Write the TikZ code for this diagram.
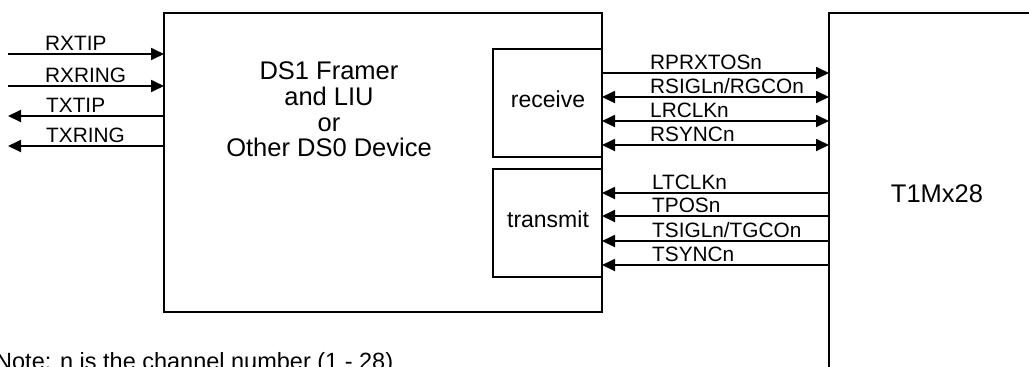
\documentclass[tikz,border=0pt]{standalone}
\usepackage{fontspec}
\setmainfont{Liberation Sans}
\usetikzlibrary{arrows.meta}
\begin{document}
\begin{tikzpicture}[x=1pt,y=-1pt,
  box/.style={draw, line width=1.8pt, rectangle, inner sep=0pt, outer sep=0pt},
  sig/.style={line width=1.8pt},
  lab/.style={anchor=base west, inner sep=0pt, font=\fontsize{20.8}{24}\selectfont},
  >={Triangle[length=13pt,width=12pt]}]
\clip (0,0) rectangle (1029,367);
\useasboundingbox (0,0) rectangle (1029,367);
% boxes
\node[box, minimum width=438pt, minimum height=299pt, anchor=north west] (main) at (164,13) {};
\node[box, minimum width=109pt, minimum height=108pt, anchor=north west] (rcv) at (493,49) {};
\node[box, minimum width=109pt, minimum height=108pt, anchor=north west] (xmt) at (493,169) {};
\node[box, minimum width=260pt, minimum height=400pt, anchor=north west] (t1m) at (829,13) {};
% texts
\node[anchor=north, align=center, inner sep=0pt, font=\fontsize{25.5}{25.8}\selectfont] (maintext) at (329,61.5)
  {DS1 Framer\\and LIU\\or\\Other DS0 Device};
\node[inner sep=0pt, font=\fontsize{23}{26}\selectfont] (rcvtext) at (548,99) {receive};
\node[inner sep=0pt, font=\fontsize{23}{26}\selectfont] (xmttext) at (548,219) {transmit};
\node[inner sep=0pt, font=\fontsize{25.5}{28}\selectfont] (t1mtext) at (937,194) {T1Mx28};
\node[anchor=base west, inner sep=0pt, font=\fontsize{23.5}{26}\selectfont] (note) at (-5,369) {Note: n is the channel number (1 - 28)};
% left side free ends
\coordinate (l1) at (8,54);
\coordinate (l2) at (8,86);
\coordinate (l3) at (8,116);
\coordinate (l4) at (8,146);
\draw[sig,->] (l1) -- (main.west |- l1);
\draw[sig,->] (l2) -- (main.west |- l2);
\draw[sig,<-] (l3) -- (main.west |- l3);
\draw[sig,<-] (l4) -- (main.west |- l4);
\node[lab] (rxtip) at (45,50) {RXTIP};
\node[lab] (rxring) at (45,82) {RXRING};
\node[lab] (txtip) at (46,112) {TXTIP};
\node[lab] (txring) at (46,142) {TXRING};
% right side
\coordinate (r1) at (700,73);
\coordinate (r2) at (700,97);
\coordinate (r3) at (700,121);
\coordinate (r4) at (700,145);
\coordinate (t1) at (700,193);
\coordinate (t2) at (700,216);
\coordinate (t3) at (700,241);
\coordinate (t4) at (700,265);
\draw[sig,->] (rcv.east |- r1) -- (t1m.west |- r1);
\draw[sig,<->] (rcv.east |- r2) -- (t1m.west |- r2);
\draw[sig,<->] (rcv.east |- r3) -- (t1m.west |- r3);
\draw[sig,<->] (rcv.east |- r4) -- (t1m.west |- r4);
\draw[sig,<-] (xmt.east |- t1) -- (t1m.west |- t1);
\draw[sig,<-] (xmt.east |- t2) -- (t1m.west |- t2);
\draw[sig,<-] (xmt.east |- t3) -- (t1m.west |- t3);
\draw[sig,<-] (xmt.east |- t4) -- (t1m.west |- t4);
\node[lab] (rprx) at (650,69) {RPRXTOSn};
\node[lab] (rsig) at (650,93) {RSIGLn/RGCOn};
\node[lab] (lrclk) at (650,117) {LRCLKn};
\node[lab] (rsync) at (650,141) {RSYNCn};
\node[lab] (ltclk) at (652,189) {LTCLKn};
\node[lab] (tpos) at (652,212) {TPOSn};
\node[lab] (tsig) at (652,237) {TSIGLn/TGCOn};
\node[lab] (tsync) at (652,261) {TSYNCn};
\end{tikzpicture}
\end{document}
